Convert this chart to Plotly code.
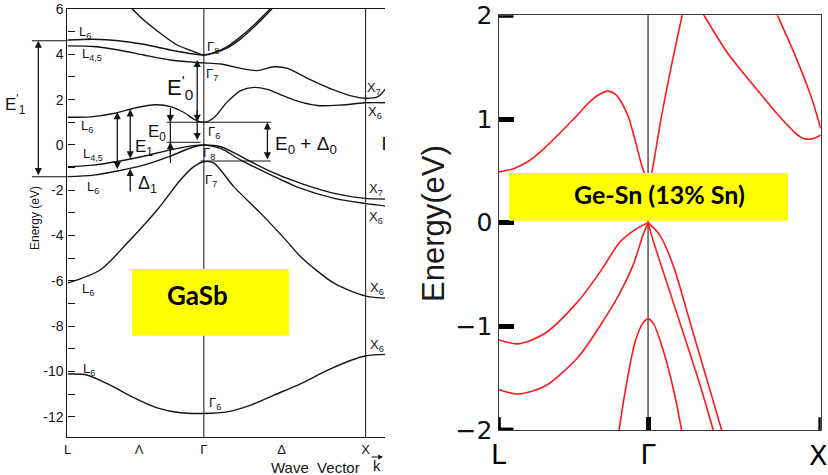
import plotly.graph_objects as go

INK = "#151515"
RED = "#ff1a1a"

# ---------------- GaSb band structure (left panel) ----------------
# wave-vector coordinate: L = -0.842, Gamma = 0, X = 1
gasb_k_ticks = [-0.842, -0.40, 0.0, 0.48, 1.0]
gasb_k_labels = ["L", "Λ", "Γ", "Δ", "X"]
gasb_e_ticks = [-12, -11, -10, -9, -8, -7, -6, -5, -4, -3, -2, -1, 0, 1, 2, 3, 4, 5, 6]
gasb_e_labels = ["-12", "", "-10", "", "-8", "", "-6", "", "-4", "", "-2", "", "0", "", "2", "", "4", "", "6"]

# lowest valence band (L6 -> Gamma6 -> X6)
gasb_low_k = [-0.842, -0.723, -0.579, -0.434, -0.289, -0.145, 0.0, 0.145, 0.290, 0.434, 0.600, 0.766, 0.910, 1.003, 1.127]
gasb_low_e = [-10.11, -10.15, -10.60, -11.15, -11.60, -11.82, -11.85, -11.78, -11.48, -11.04, -10.53, -9.94, -9.50, -9.30, -9.24]

# split-off band (Gamma7)
gasb_so_k = [-0.842, -0.641, -0.475, -0.289, -0.145, -0.062, 0.0, 0.062, 0.186, 0.352, 0.507, 0.600, 0.807, 1.003, 1.127]
gasb_so_e = [-6.10, -5.52, -4.34, -2.87, -1.55, -0.96, -0.74, -0.80, -1.85, -3.02, -4.20, -4.94, -6.11, -6.67, -6.76]

# upper valence bands (Gamma8)
gasb_vb_k = [-0.842, -0.682, -0.527, -0.372, -0.207, -0.062, 0.0, 0.104, 0.228, 0.393, 0.600, 0.806, 0.993, 1.127]
gasb_hh_e = [-0.96, -0.89, -0.72, -0.50, -0.22, -0.03, 0.0, -0.08, -0.50, -1.11, -1.70, -2.14, -2.36, -2.39]
gasb_lh_e = [-1.40, -1.33, -1.14, -0.89, -0.49, -0.08, 0.0, -0.15, -0.67, -1.25, -1.92, -2.36, -2.58, -2.70]

# lowest conduction band (Gamma6)
gasb_c6_k = [-0.842, -0.70, -0.55, -0.42, -0.30, -0.20, -0.12, -0.06, 0.0, 0.062, 0.145, 0.228, 0.31, 0.393, 0.48, 0.559, 0.703, 0.848, 0.993, 1.127]
gasb_c6_e = [1.22, 1.24, 1.40, 1.64, 1.77, 1.68, 1.42, 1.13, 1.00, 1.20, 1.90, 2.40, 2.54, 2.45, 2.20, 1.98, 1.74, 1.76, 1.86, 1.86]

# Gamma7 conduction band
gasb_c7_k = [-0.842, -0.682, -0.527, -0.372, -0.207, -0.062, 0.0, 0.104, 0.228, 0.331, 0.434, 0.517, 0.641, 0.806, 0.931, 0.993, 1.076, 1.127]
gasb_c7_e = [4.37, 4.34, 4.19, 3.97, 3.75, 3.65, 3.62, 3.57, 3.38, 3.28, 3.45, 3.38, 2.94, 2.42, 2.13, 2.06, 2.13, 2.50]

# Gamma8 conduction bands
gasb_c8a_k = [-0.842, -0.682, -0.527, -0.372, -0.207, -0.062, 0.0, 0.062, 0.145, 0.228, 0.310, 0.393, 0.424]
gasb_c8a_e = [4.63, 4.66, 4.60, 4.44, 4.19, 4.01, 3.97, 4.07, 4.34, 4.78, 5.29, 5.88, 6.10]
gasb_c8b_k = [-0.445, -0.372, -0.269, -0.165, -0.062, 0.0, 0.062, 0.145, 0.228, 0.310, 0.40, 0.44]
gasb_c8b_e = [6.02, 5.51, 4.93, 4.41, 4.12, 3.97, 4.05, 4.28, 4.68, 5.20, 5.85, 6.15]

# ---------------- Ge-Sn (13% Sn) band structure (right panel) ----------------
# wave-vector coordinate: L = -0.866, Gamma = 0, X = 1
gesn_k_ticks = [-0.866, 0.0, 1.0]
gesn_k_labels = ["L", "Γ", ""]
gesn_x_label = "X"
gesn_e_ticks = [-2, -1, 0, 1, 2]

gesn_c1_left_k = [-0.866, -0.78, -0.696, -0.60, -0.502, -0.42, -0.348, -0.29, -0.232, -0.19, -0.154, -0.116, -0.077, -0.038, 0.0]
gesn_c1_left_e = [0.49, 0.52, 0.59, 0.72, 0.88, 1.02, 1.15, 1.23, 1.27, 1.24, 1.16, 1.03, 0.81, 0.56, 0.38]
gesn_c1_right_k = [0.0, 0.02, 0.078, 0.136, 0.197, 0.203]
gesn_c1_right_e = [0.38, 0.476, 1.03, 1.52, 2.00, 2.05]
gesn_c2_k = [0.318, 0.325, 0.464, 0.658, 0.754, 0.851, 0.88, 0.905, 0.955, 1.0]
gesn_c2_e = [2.02, 2.00, 1.63, 1.23, 1.04, 0.87, 0.83, 0.81, 0.81, 0.846]
gesn_c3_k = [0.742, 0.750, 0.851, 0.948, 1.0]
gesn_c3_e = [2.03, 2.00, 1.62, 1.20, 0.91]

gesn_hh_left_k = [-0.866, -0.754, -0.599, -0.406, -0.28, -0.164, -0.077, 0.0]
gesn_hh_left_e = [-1.13, -1.17, -1.07, -0.76, -0.48, -0.19, -0.07, 0.0]
gesn_lh_left_k = [-0.866, -0.754, -0.599, -0.406, -0.28, -0.164, -0.087, -0.029, 0.0]
gesn_lh_left_e = [-1.61, -1.655, -1.58, -1.30, -1.00, -0.68, -0.41, -0.12, 0.0]
gesn_hh_right_k = [0.0, 0.068, 0.145, 0.25, 0.34, 0.426, 0.434]
gesn_hh_right_e = [0.0, -0.12, -0.41, -1.00, -1.51, -2.00, -2.05]
gesn_lh_right_k = [0.0, 0.029, 0.107, 0.203, 0.300, 0.377, 0.385]
gesn_lh_right_e = [0.0, -0.17, -0.57, -1.06, -1.56, -2.00, -2.05]
gesn_so_k = [-0.176, -0.168, -0.12, -0.075, -0.03, 0.0, 0.03, 0.073, 0.133, 0.194, 0.20]
gesn_so_e = [-2.10, -2.00, -1.51, -1.15, -0.97, -0.929, -0.97, -1.155, -1.51, -2.00, -2.08]

fig = go.Figure()

gasb_bands = [
    (gasb_low_k, gasb_low_e), (gasb_so_k, gasb_so_e),
    (gasb_vb_k, gasb_hh_e), (gasb_vb_k, gasb_lh_e),
    (gasb_c6_k, gasb_c6_e), (gasb_c7_k, gasb_c7_e),
    (gasb_c8a_k, gasb_c8a_e), (gasb_c8b_k, gasb_c8b_e),
]
for k, e in gasb_bands:
    fig.add_trace(go.Scatter(x=k, y=e, mode="lines", xaxis="x", yaxis="y",
                             line=dict(color=INK, width=1.4, shape="spline", smoothing=0.8),
                             hoverinfo="skip"))

gesn_bands = [
    (gesn_c1_left_k, gesn_c1_left_e), (gesn_c1_right_k, gesn_c1_right_e),
    (gesn_c2_k, gesn_c2_e), (gesn_c3_k, gesn_c3_e),
    (gesn_hh_left_k, gesn_hh_left_e), (gesn_lh_left_k, gesn_lh_left_e),
    (gesn_hh_right_k, gesn_hh_right_e), (gesn_lh_right_k, gesn_lh_right_e),
    (gesn_so_k, gesn_so_e),
]
for k, e in gesn_bands:
    fig.add_trace(go.Scatter(x=k, y=e, mode="lines", xaxis="x2", yaxis="y2",
                             line=dict(color=RED, width=1.6, shape="spline", smoothing=0.8),
                             hoverinfo="skip"))

# partially visible label at the clipped right edge of the GaSb frame
fig.add_trace(go.Scatter(x=[1.098], y=[0.0], mode="text", text=["E"], textposition="middle right",
                         textfont=dict(family="Liberation Sans", size=19, color=INK),
                         cliponaxis=True, xaxis="x", yaxis="y", hoverinfo="skip"))

TICK = dict(color="black", width=4.5)
shapes = [
    # symmetry-point verticals
    dict(type="line", xref="x", yref="y domain", x0=0, x1=0, y0=0, y1=1, line=dict(color=INK, width=1), layer="below"),
    dict(type="line", xref="x", yref="y domain", x0=1, x1=1, y0=0, y1=1, line=dict(color=INK, width=1), layer="below"),
    dict(type="line", xref="x2", yref="y2 domain", x0=0, x1=0, y0=0, y1=1, line=dict(color="#555555", width=1.5), layer="below"),
    # heavy ticks at the corners of the Ge-Sn frame
    dict(type="line", xref="x2 domain", yref="y2", x0=0, x1=0.0466, y0=2, y1=2, line=TICK),
    dict(type="line", xref="x2 domain", yref="y2", x0=0, x1=0.0466, y0=-2, y1=-2, line=TICK),
    dict(type="line", xref="x2", yref="y2 domain", x0=-0.8665, x1=-0.8665, y0=0, y1=0.031, line=TICK),
    dict(type="line", xref="x2", yref="y2 domain", x0=1.0, x1=1.0, y0=0, y1=0.031, line=TICK),
    # transition reference levels
    dict(type="line", xref="x", yref="y", x0=-0.23, x1=0.414, y0=1.0, y1=1.0, line=dict(color=INK, width=1.1)),
    dict(type="line", xref="x", yref="y", x0=-0.23, x1=-0.02, y0=0.12, y1=0.12, line=dict(color=INK, width=1.1)),
    dict(type="line", xref="x", yref="y", x0=-0.02, x1=0.414, y0=-0.71, y1=-0.71, line=dict(color=INK, width=1.1)),
    dict(type="line", xref="x", yref="y", x0=-0.207, x1=-0.207, y0=1.63, y1=-0.80, line=dict(color=INK, width=1.2)),
    # E1' bracket
    dict(type="line", xref="paper", yref="paper", x0=0.0386, x1=0.0815, y0=0.9143, y1=0.9143, line=dict(color=INK, width=1.1)),
    dict(type="line", xref="paper", yref="paper", x0=0.0386, x1=0.0815, y0=0.628, y1=0.628, line=dict(color=INK, width=1.1)),
    # yellow labels
    dict(type="rect", xref="paper", yref="paper", x0=0.1594, x1=0.349, y0=0.2933, y1=0.4337,
         fillcolor="#ffff00", line=dict(width=0), layer="above"),
    dict(type="rect", xref="paper", yref="paper", x0=0.6147, x1=0.9517, y0=0.5354, y1=0.6358,
         fillcolor="#ffff00", line=dict(width=0), layer="above"),
]

annotations = []


def arrow(x, y, ax, ay, both=False):
    annotations.append(dict(x=x, y=y, ax=ax, ay=ay, xref="x", yref="y", axref="x", ayref="y",
                            showarrow=True, arrowhead=2, arrowsize=1.1, arrowwidth=1.3,
                            arrowcolor=INK, text="", standoff=0, startstandoff=0,
                            arrowside="end+start" if both else "end"))


def label(txt, x, y, size, ref="data", family="Liberation Sans", color=INK, angle=0):
    r = ("x", "y") if ref == "data" else ("paper", "paper")
    annotations.append(dict(x=x, y=y, xref=r[0], yref=r[1], text=txt, showarrow=False,
                            xanchor="center", yanchor="middle", textangle=angle,
                            font=dict(family=family, size=size, color=color)))


arrow(-0.041, 3.75, -0.041, 0.15, both=True)   # E0'
arrow(-0.041, 1.02, -0.041, 1.6)
arrow(-0.535, 1.45, -0.535, -1.14, both=True)  # E1
arrow(-0.455, 1.57, -0.455, -0.66, both=True)
arrow(-0.207, 1.0, -0.207, 1.5)                # E0
arrow(-0.207, 0.12, -0.207, -0.45)
arrow(0.393, 1.0, 0.393, -0.71, both=True)     # E0 + Delta0
arrow(-0.455, -1.05, -0.455, -2.12)            # Delta1

# E1' arrow (outside the frame)
annotations.append(dict(x=0.0463, y=0.9143, xref="paper", yref="paper", ax=0, ay=136,
                        showarrow=True, arrowhead=2, arrowsize=1.1, arrowwidth=1.3, arrowcolor=INK,
                        text="", standoff=0, startstandoff=0, arrowside="end+start"))

band_labels = [
    ("L<sub>6</sub>", -0.733, 4.94), ("L<sub>4,5</sub>", -0.690, 3.97), ("L<sub>6</sub>", -0.721, 0.83),
    ("L<sub>4,5</sub>", -0.684, -0.44), ("L<sub>6</sub>", -0.684, -1.86), ("L<sub>6</sub>", -0.715, -6.40),
    ("L<sub>6</sub>", -0.709, -9.93),
    ("Γ<sub>8</sub>", 0.054, 4.28), ("Γ<sub>7</sub>", 0.048, 3.09), ("Γ<sub>6</sub>", 0.060, 0.53),
    ("Γ<sub>8</sub>", 0.029, -0.36), ("Γ<sub>7</sub>", 0.042, -1.55), ("Γ<sub>6</sub>", 0.066, -11.4),
    ("X<sub>7</sub>", 1.053, 2.51), ("X<sub>6</sub>", 1.059, 1.41), ("X<sub>7</sub>", 1.065, -1.95),
    ("X<sub>6</sub>", 1.065, -3.18), ("X<sub>6</sub>", 1.071, -6.32), ("X<sub>6</sub>", 1.071, -8.83),
]
for txt, kx, ey in band_labels:
    label(txt, kx, ey, 13)

label("E<sup>'</sup><sub>0</sub>", -0.150, 2.55, 22)
label("E<sub>0</sub>", -0.287, 0.53, 17)
label("E<sub>1</sub>", -0.368, -0.14, 17)
label("Δ<sub>1</sub>", -0.350, -1.73, 18)
label("E<sub>0</sub> + Δ<sub>0</sub>", 0.631, 0.0, 19)

label("E<sup>'</sup><sub>1</sub>", 0.0190, 0.7790, 17, ref="paper")
label("Energy (eV)", 0.0423, 0.541, 12, ref="paper", angle=-90)
label("Wave  Vector", 0.3816, 0.0168, 15, ref="paper")
label("k", 0.4553, 0.0190, 15, ref="paper")
annotations.append(dict(x=0.4626, y=0.0379, xref="paper", yref="paper", ax=-13, ay=0, text="", showarrow=True,
                        arrowhead=2, arrowsize=0.8, arrowwidth=1.2, arrowcolor=INK, standoff=0))
label("<b>GaSb</b>", 0.2385, 0.3789, 26, ref="paper", family="Lato", color="black")
label("<b>Ge-Sn (13% Sn)</b>", 0.7971, 0.5916, 25, ref="paper", family="Lato", color="black")
label("Energy(eV)", 0.5229, 0.5305, 31, ref="paper", color="#1a1a1a", angle=-90)
# X symmetry-point label, kept inside the page edge
label(gesn_x_label, 0.9890, 0.0420, 27, ref="paper", family="DejaVu Sans", color="black")

fig.update_layout(
    width=828, height=475, margin=dict(l=0, r=0, t=0, b=0, autoexpand=False),
    paper_bgcolor="white", plot_bgcolor="white", showlegend=False,
    xaxis=dict(domain=[0.0815, 0.465], range=[-0.843, 1.12], anchor="y", automargin=False,
               showline=True, mirror=True, linecolor=INK, linewidth=1.3,
               ticks="", tickvals=gasb_k_ticks, ticktext=gasb_k_labels,
               tickfont=dict(family="Liberation Sans", size=13, color=INK),
               ticklabeloverflow="allow", showgrid=False, zeroline=False),
    yaxis=dict(domain=[0.0794, 0.9821], range=[-12.9, 6.02], anchor="x", automargin=False,
               showline=True, linecolor=INK, linewidth=1.3,
               ticks="inside", ticklen=7, tickwidth=1.2, tickcolor=INK,
               tickvals=gasb_e_ticks, ticktext=gasb_e_labels,
               tickfont=dict(family="Liberation Sans", size=14, color=INK),
               ticklabeloverflow="allow", showgrid=False, zeroline=False),
    xaxis2=dict(domain=[0.6021, 0.9912], range=[-0.8665, 1.0005], anchor="y2", automargin=False,
                showline=True, mirror=True, linecolor="#3a3a3a", linewidth=1.3,
                ticks="inside", ticklen=13, tickwidth=4.5, tickcolor="black",
                tickvals=gesn_k_ticks, ticktext=gesn_k_labels,
                tickfont=dict(family="DejaVu Sans", size=27, color="black"),
                ticklabeloverflow="allow", showgrid=False, zeroline=False),
    yaxis2=dict(domain=[0.0947, 0.9678], range=[-2.002, 2.002], anchor="x2", automargin=False,
                showline=True, mirror=True, linecolor="#3a3a3a", linewidth=1.3,
                ticks="inside", ticklen=15, tickwidth=4.5, tickcolor="black",
                tickvals=gesn_e_ticks,
                tickfont=dict(family="DejaVu Sans", size=25, color="#111111"),
                ticklabeloverflow="allow", showgrid=False, zeroline=False),
    shapes=shapes,
    annotations=annotations,
)

fig.write_html("out.html")
